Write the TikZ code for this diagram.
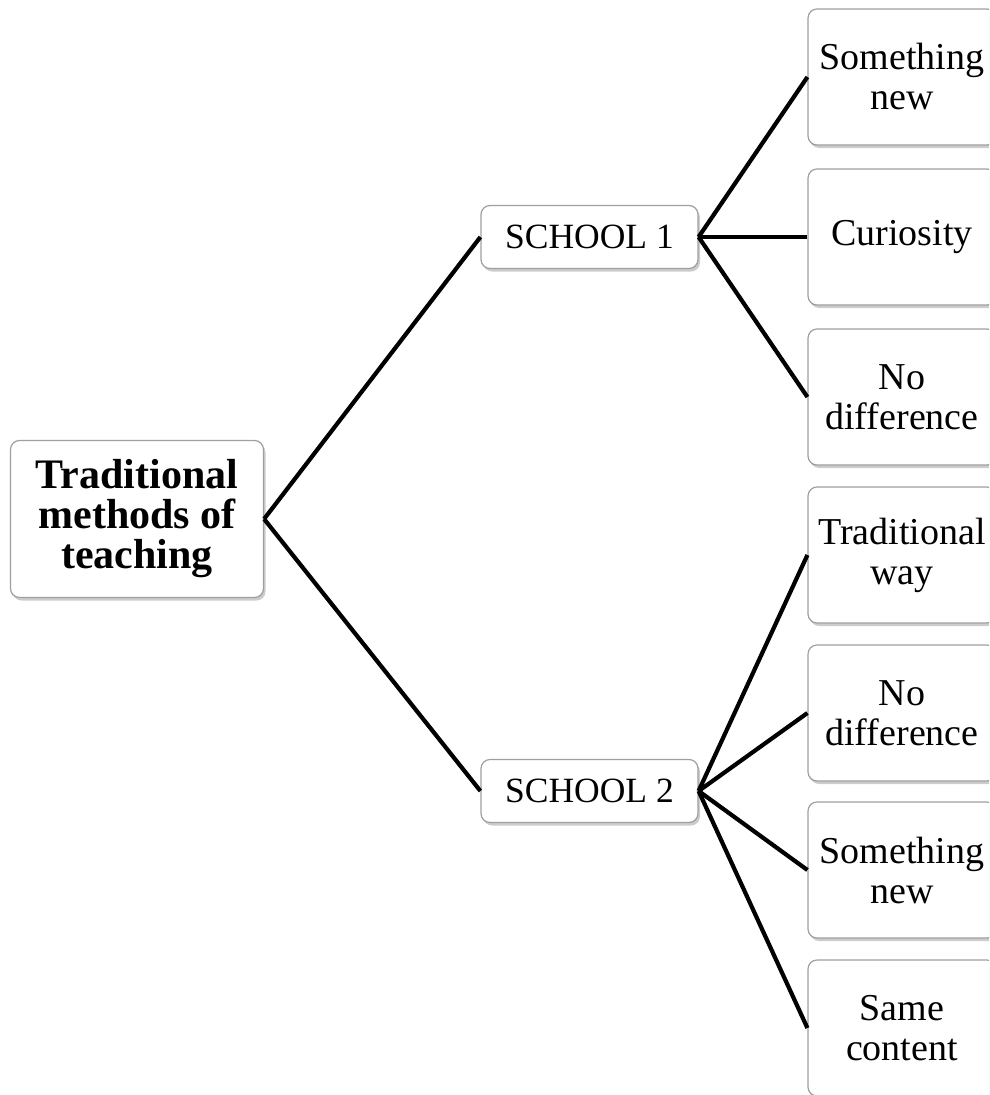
\documentclass[tikz,border=0pt]{standalone}
\usepackage{fontspec}
\setmainfont{Liberation Serif}
\usetikzlibrary{shadows}
\begin{document}
\begin{tikzpicture}[x=1pt,y=-1pt,
  box/.style={draw=gray!75, line width=1.2pt, fill=white, rounded corners=9pt,
    drop shadow={shadow xshift=2pt, shadow yshift=-3pt, opacity=0.4, fill=gray},
    inner sep=0pt, align=center},
  rootbox/.style={box, minimum width=253pt, minimum height=157pt,
    font=\fontsize{42}{40}\selectfont\bfseries},
  schoolbox/.style={box, minimum width=217pt, minimum height=63pt, font=\fontsize{35.5}{38}\selectfont},
  leafbox/.style={box, minimum width=188pt, minimum height=136pt, font=\fontsize{38}{40}\selectfont},
  link/.style={line width=4.2pt, black}]
\useasboundingbox (0,0) rectangle (989,1095);
\clip (0,0) rectangle (989,1095);
% root
\node[rootbox] (root) at (137,519) {Traditional\\methods of\\teaching};
% schools
\node[schoolbox] (s1) at (589.5,237) {SCHOOL 1};
\node[schoolbox] (s2) at (589.5,791) {SCHOOL 2};
% leaves
\node[leafbox] (l1) at (902,77) {Something\\new};
\node[leafbox] (l2) at (902,237) {Curiosity};
\node[leafbox] (l3) at (902,397) {No\\difference};
\node[leafbox] (l4) at (902,555) {Traditional\\way};
\node[leafbox] (l5) at (902,713) {No\\difference};
\node[leafbox] (l6) at (902,870) {Something\\new};
\node[leafbox] (l7) at (902,1028) {Same\\content};
% connectors
\draw[link] (root.east) -- (s1.west);
\draw[link] (root.east) -- (s2.west);
\foreach \l in {l1,l2,l3} \draw[link] (s1.east) -- (\l.west);
\foreach \l in {l4,l5,l6,l7} \draw[link] (s2.east) -- (\l.west);
\end{tikzpicture}
\end{document}
